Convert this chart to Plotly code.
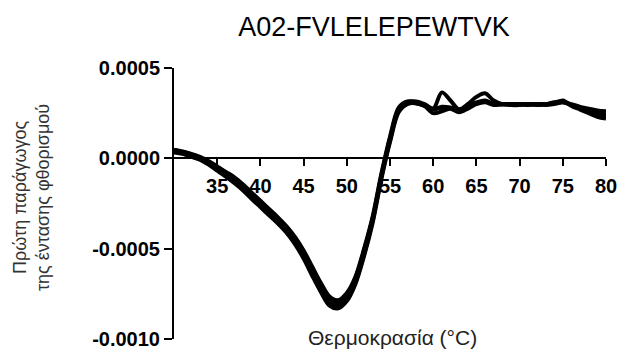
import plotly.graph_objects as go

# Temperature (°C)
temps = list(range(30, 81))

# First derivative of fluorescence intensity, in units of 1e-4 (four replicates)
rep1_e4 = [0.45, 0.35, 0.22, 0.05, -0.2, -0.5, -0.8, -1.1, -1.5, -1.95,
           -2.4, -2.85, -3.3, -3.8, -4.4, -5.15, -6.1, -7.0, -7.75, -7.95,
           -7.55, -6.65, -5.1, -3.3, -0.95, 1.1, 2.7, 3.1, 3.15, 3.0,
           2.75, 3.65, 3.2, 2.7, 2.9, 3.1, 3.2, 3.0, 3.0, 3.0,
           3.0, 3.0, 3.0, 3.0, 3.1, 3.15, 2.95, 2.8, 2.65, 2.5, 2.3]
rep2_e4 = [0.38, 0.28, 0.1, -0.08, -0.35, -0.68, -1.02, -1.38, -1.78, -2.25,
           -2.7, -3.15, -3.6, -4.1, -4.75, -5.55, -6.5, -7.4, -8.15, -8.3,
           -7.9, -6.95, -5.4, -3.55, -1.15, 0.9, 2.55, 3.0, 3.05, 2.9,
           2.75, 2.8, 2.8, 2.7, 3.0, 3.4, 3.6, 3.2, 3.0, 2.95,
           2.95, 3.0, 2.95, 3.0, 3.05, 3.2, 2.9, 2.7, 2.5, 2.3, 2.2]
rep3_e4 = [0.33, 0.25, 0.08, -0.02, -0.28, -0.58, -0.9, -1.25, -1.65, -2.12,
           -2.57, -3.02, -3.47, -3.97, -4.6, -5.38, -6.35, -7.25, -8.0, -8.15,
           -7.75, -6.85, -5.3, -3.45, -1.05, 1.0, 2.65, 3.05, 3.05, 2.9,
           2.5, 2.6, 2.75, 2.55, 2.75, 3.0, 3.1, 2.95, 3.0, 3.0,
           3.0, 2.95, 3.0, 2.95, 3.0, 3.1, 2.95, 2.8, 2.65, 2.55, 2.4]
rep4_e4 = [0.48, 0.38, 0.25, 0.08, -0.15, -0.45, -0.75, -1.05, -1.45, -1.9,
           -2.35, -2.8, -3.25, -3.75, -4.35, -5.1, -6.0, -6.9, -7.65, -7.85,
           -7.45, -6.55, -5.0, -3.2, -0.85, 1.2, 2.8, 3.15, 3.1, 2.95,
           2.7, 2.85, 2.8, 2.65, 2.85, 3.05, 3.15, 3.0, 3.0, 3.0,
           3.0, 3.0, 3.0, 3.0, 3.05, 3.1, 3.0, 2.85, 2.75, 2.65, 2.6]

y_ticks = [0.0005, 0.0, -0.0005, -0.0010]
y_ticktext = ["0.0005", "0.0000", "-0.0005", "-0.0010"]
x_ticks = [35, 40, 45, 50, 55, 60, 65, 70, 75, 80]

fig = go.Figure()
for rep in [rep1_e4, rep2_e4, rep3_e4, rep4_e4]:
    fig.add_trace(go.Scatter(
        x=temps, y=[v * 1e-4 for v in rep], mode="lines",
        line=dict(color="black", width=4, shape="spline", smoothing=0.9),
        showlegend=False, hoverinfo="skip"))

fig.update_layout(
    width=617, height=354,
    margin=dict(l=174, r=11, t=68, b=15),
    paper_bgcolor="white", plot_bgcolor="white",
    font=dict(family="Arial, Liberation Sans", color="black"),
    title=dict(text="A02-FVLELEPEWTVK", x=374 / 617, xanchor="center",
               y=1 - 27 / 354, yanchor="middle",
               font=dict(size=27, color="black")),
    xaxis=dict(range=[30, 80], tickvals=x_ticks, ticks="outside",
               ticklen=7, tickwidth=2, tickcolor="black",
               showline=True, linewidth=2, linecolor="black",
               showgrid=False, zeroline=False, automargin=False,
               anchor="free", position=2 / 3,
               ticklabelstandoff=3, ticklabeloverflow="allow",
               tickfont=dict(size=20, weight="bold", color="black")),
    yaxis=dict(range=[-0.0010, 0.0005], tickvals=y_ticks, ticktext=y_ticktext,
               ticks="outside", ticklen=8, tickwidth=2, tickcolor="black",
               showline=True, linewidth=2, linecolor="black",
               showgrid=False, zeroline=False, automargin=False,
               tickfont=dict(size=20, weight="bold", color="black")),
)

fig.add_annotation(text="Πρώτη παράγωγος<br>της έντασης φθορισμού",
                   textangle=-90, xref="paper", yref="paper",
                   x=-(174 - 31) / (617 - 185), xanchor="center",
                   y=(354 - 15 - 198) / (354 - 83), yanchor="middle",
                   showarrow=False, font=dict(size=18, color="#333333"))
fig.add_annotation(text="Θερμοκρασία (°C)", xref="paper", yref="paper",
                   x=(392 - 174) / (617 - 185), xanchor="center",
                   y=(354 - 15 - 337) / (354 - 83), yanchor="middle",
                   showarrow=False, font=dict(size=21, color="#222222"))

fig.write_html("out.html")
